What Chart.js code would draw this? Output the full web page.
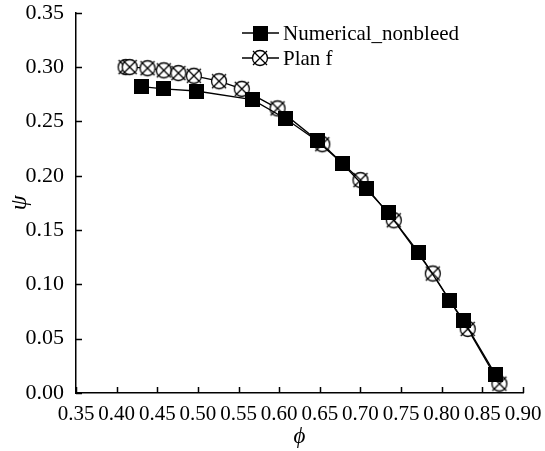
<!DOCTYPE html>
<html>
<head>
<meta charset="utf-8">
<script src="https://cdn.jsdelivr.net/npm/chart.js@4.4.0/dist/chart.umd.min.js"></script>
<style>
  html, body { margin: 0; padding: 0; background: #fff; }
</style>
</head>
<body>
<canvas id="chart" width="545" height="451"></canvas>
<script>
// values
const phiNumerical = [0.431, 0.458, 0.498, 0.567, 0.608, 0.647, 0.678, 0.707, 0.734, 0.772, 0.810, 0.8265, 0.866];
const psiNumerical = [0.282, 0.280, 0.278, 0.270, 0.2525, 0.232, 0.211, 0.188, 0.166, 0.129, 0.0847, 0.067, 0.0172];
const phiPlanF = [0.411, 0.416, 0.438, 0.458, 0.476, 0.495, 0.526, 0.554, 0.598, 0.653, 0.700, 0.741, 0.789, 0.832, 0.871];
const psiPlanF = [0.300, 0.300, 0.299, 0.297, 0.2945, 0.292, 0.287, 0.280, 0.262, 0.229, 0.196, 0.159, 0.110, 0.059, 0.0086];
const xTicks = [0.35, 0.40, 0.45, 0.50, 0.55, 0.60, 0.65, 0.70, 0.75, 0.80, 0.85, 0.90];
const yTicks = [0.00, 0.05, 0.10, 0.15, 0.20, 0.25, 0.30, 0.35];
const seriesNames = ['Numerical_nonbleed', 'Plan f'];

const FONT = '"Liberation Serif", "Times New Roman", serif';

// marker sprites
const squareMark = (() => {
    const c = document.createElement('canvas');
    c.width = c.height = 15;
    const g = c.getContext('2d');
    g.fillStyle = '#000';
    g.fillRect(0, 0, 15, 15);
    return c;
})();

const crossCircleMark = (() => {
    const c = document.createElement('canvas');
    c.width = c.height = 22;
    const g = c.getContext('2d');
    g.lineWidth = 1.3;
    g.strokeStyle = '#000';
    g.fillStyle = '#fff';
    g.beginPath();
    g.arc(11, 11, 7.5, 0, Math.PI * 2);
    g.fill();
    g.stroke();
    g.beginPath();
    g.moveTo(4, 4); g.lineTo(18, 18);
    g.moveTo(18, 4); g.lineTo(4, 18);
    g.stroke();
    return c;
})();

const toPoints = (xs, ys) => xs.map((x, i) => ({ x, y: ys[i] }));

// tick marks pointing into the plot
const innerTicks = {
    id: 'innerTicks',
    afterDraw(chart) {
        const { ctx, scales: { x, y } } = chart;
        ctx.save();
        ctx.strokeStyle = '#000';
        ctx.lineWidth = 1.5;
        ctx.beginPath();
        xTicks.forEach(v => {
            const px = Math.round(x.getPixelForValue(v)) + 0.5;
            ctx.moveTo(px, y.bottom);
            ctx.lineTo(px, y.bottom - 6);
        });
        yTicks.forEach(v => {
            const py = Math.round(y.getPixelForValue(v)) + 0.5;
            ctx.moveTo(x.left, py);
            ctx.lineTo(x.left + 6, py);
        });
        ctx.stroke();
        ctx.restore();
    }
};

// legend drawn like the original: line through the marker
const lineLegend = {
    id: 'lineLegend',
    afterDraw(chart) {
        const { ctx } = chart;
        const marks = [squareMark, crossCircleMark];
        ctx.save();
        ctx.font = '21px ' + FONT;
        ctx.textBaseline = 'middle';
        ctx.fillStyle = '#000';
        seriesNames.forEach((name, i) => {
            const y = 33 + i * 25;
            ctx.strokeStyle = '#000';
            ctx.lineWidth = 1.5;
            ctx.beginPath();
            ctx.moveTo(242, y);
            ctx.lineTo(279, y);
            ctx.stroke();
            const m = marks[i];
            ctx.drawImage(m, 260 - m.width / 2, y - m.height / 2);
            ctx.fillText(name, 283, y + 1);
        });
        ctx.restore();
    }
};

new Chart(document.getElementById('chart'), {
    type: 'scatter',
    data: {
        datasets: [
            {
                label: seriesNames[0],
                data: toPoints(phiNumerical, psiNumerical),
                showLine: true,
                borderColor: '#000',
                borderWidth: 1.3,
                pointStyle: squareMark,
                pointRadius: 7
            },
            {
                label: seriesNames[1],
                data: toPoints(phiPlanF, psiPlanF),
                showLine: true,
                borderColor: '#000',
                borderWidth: 1.3,
                pointStyle: crossCircleMark,
                pointRadius: 8
            }
        ]
    },
    options: {
        responsive: false,
        animation: false,
        devicePixelRatio: 1,
        layout: { padding: { left: 0, right: 22, top: 0, bottom: 0 } },
        plugins: {
            legend: { display: false },
            tooltip: { enabled: false }
        },
        scales: {
            x: {
                type: 'linear',
                min: 0.35,
                max: 0.90,
                afterBuildTicks: s => { s.ticks = xTicks.map(value => ({ value })); },
                afterFit: s => { s.height = 58; },
                grid: { display: false },
                border: { display: true, color: '#000', width: 1.5 },
                ticks: {
                    autoSkip: false,
                    maxRotation: 0,
                    padding: 1,
                    color: '#000',
                    font: { family: FONT, size: 21 },
                    callback: v => v.toFixed(2)
                },
                title: {
                    display: true,
                    text: 'ϕ',
                    color: '#000',
                    padding: { top: 0, bottom: 0 },
                    font: { family: FONT, size: 23, style: 'italic' }
                }
            },
            y: {
                type: 'linear',
                min: 0,
                max: 0.35,
                afterBuildTicks: s => { s.ticks = yTicks.map(value => ({ value })); },
                afterFit: s => { s.width = 76; },
                grid: { display: false },
                border: { display: true, color: '#000', width: 1.5 },
                ticks: {
                    autoSkip: false,
                    padding: 4,
                    color: '#000',
                    font: { family: FONT, size: 22, lineHeight: 0.8 },
                    callback: v => v.toFixed(2)
                },
                title: {
                    display: true,
                    text: 'ψ',
                    color: '#000',
                    padding: { top: 5, bottom: 0 },
                    font: { family: FONT, size: 24, style: 'italic' }
                }
            }
        }
    },
    plugins: [innerTicks, lineLegend]
});
</script>
</body>
</html>
